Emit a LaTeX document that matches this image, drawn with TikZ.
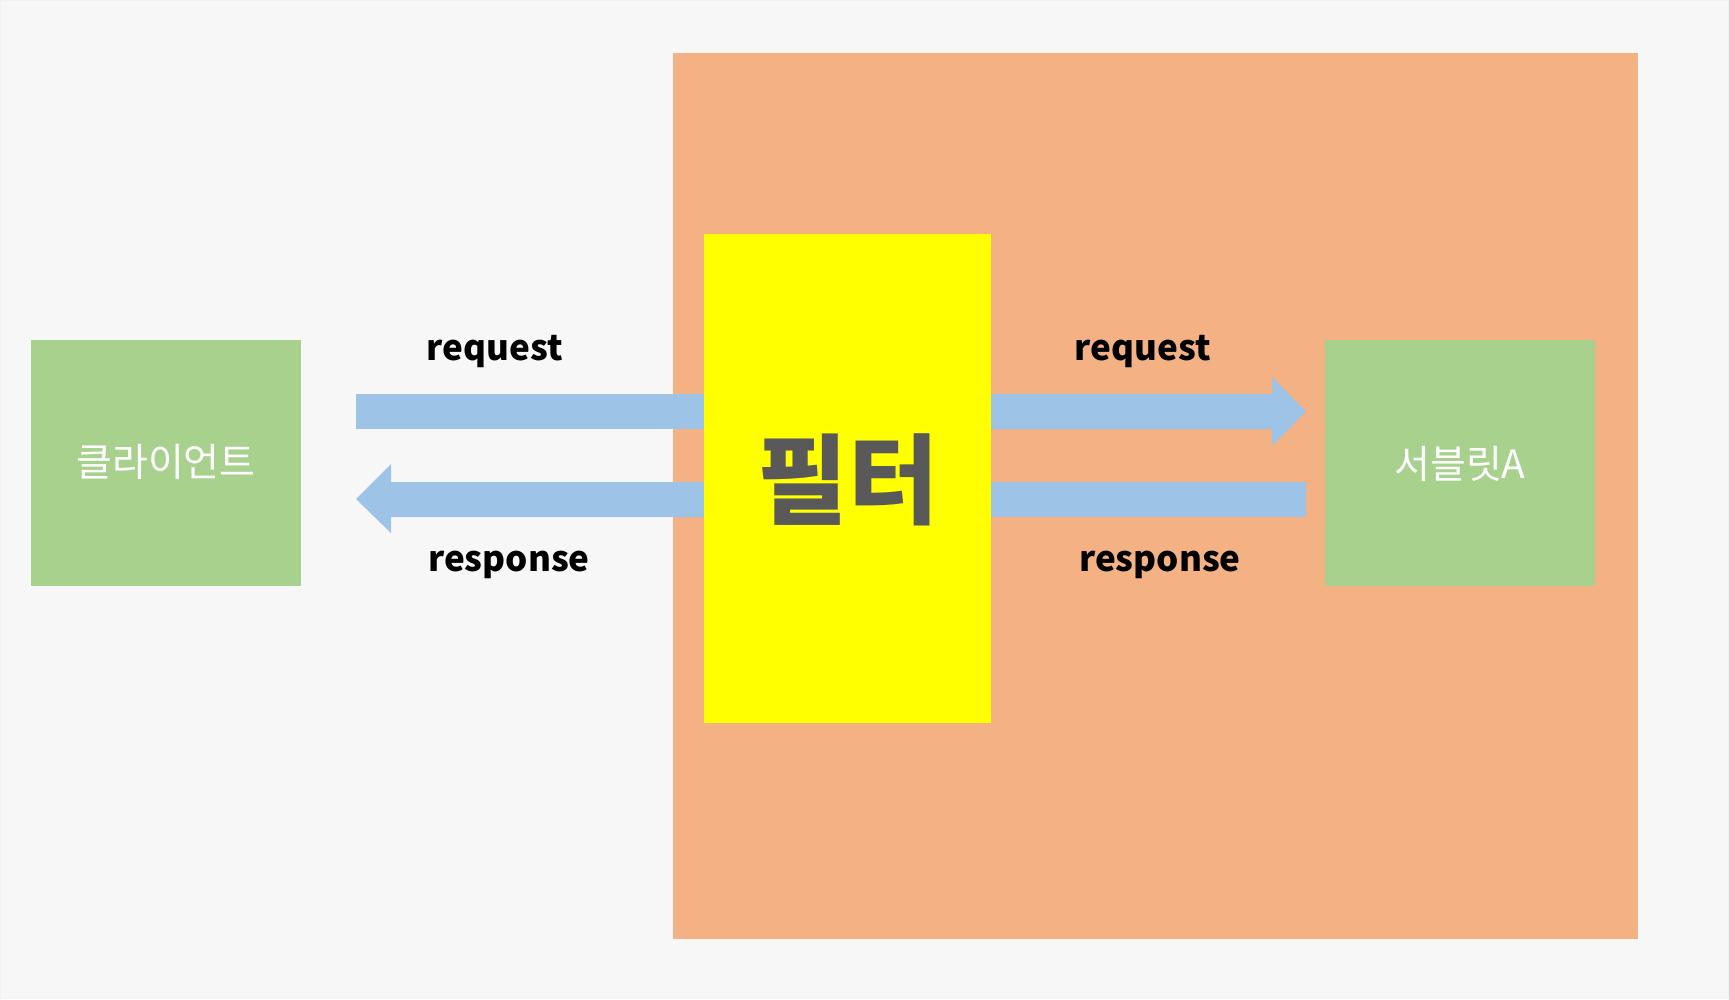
\documentclass[tikz,border=0pt]{standalone}
\usepackage{fontspec}
\setmainfont{Noto Sans CJK KR}
\usetikzlibrary{calc}
\definecolor{bgc}{HTML}{F7F7F7}
\definecolor{orangec}{HTML}{F4B183}
\definecolor{yellowc}{HTML}{FFFF00}
\definecolor{greenc}{HTML}{A9D18E}
\definecolor{bluec}{HTML}{9DC3E6}
\definecolor{darktext}{HTML}{595959}
\tikzset{
  boxn/.style={anchor=north west, inner sep=0pt, outer sep=0pt},
  greenbox/.style={boxn, fill=greenc, text=white, font=\fontsize{38}{44}\selectfont},
  lbl/.style={inner sep=0pt, font=\bfseries\fontsize{35}{40}\selectfont, text=black},
  flow/.style={fill=bluec, draw=none}
}
\begin{document}
\begin{tikzpicture}[x=1pt,y=-1pt]
\path[fill=bgc, draw=black!5, line width=1pt] (0.5,0.5) rectangle (1728.5,998.5);
\useasboundingbox (0,0) rectangle (1729,999);
% container
\node[boxn, fill=orangec, minimum width=965pt, minimum height=886pt] (container) at (673,53) {};
% arrows
\fill[flow] (356,394) rectangle (704,429);
\fill[flow] (704,482) -- (391,482) -- (391,464) -- (356,499) -- (391,533) -- (391,517) -- (704,517) -- cycle;
\fill[flow] (991,394) -- (1272,394) -- (1272,377) -- (1306,411.5) -- (1272,446) -- (1272,429) -- (991,429) -- cycle;
\fill[flow] (991,482) rectangle (1306,517);
% filter
\node[boxn, fill=yellowc, minimum width=287pt, minimum height=489pt] (filter) at (704,234) {};
\node[inner sep=0pt, text=darktext, font=\bfseries\fontsize{98}{110}\selectfont] (filterlbl) at (848,480) {필터};
% client and servlet
\node[greenbox, minimum width=270pt, minimum height=246pt] (client) at (31,340) {};
\node[inner sep=0pt, text=white, font=\fontsize{39}{44}\selectfont] (clientlbl) at (166,462) {클라이언트};
\node[greenbox, minimum width=270pt, minimum height=246pt] (servlet) at (1325,340) {};
\node[inner sep=0pt, text=white, font=\fontsize{39}{44}\selectfont] (servletlbl) at (1460,464) {서블릿A};
% labels
\node[lbl] (req1) at (495,352) {request};
\node[lbl] (res1) at (509,565) {response};
\node[lbl] (req2) at (1143,352) {request};
\node[lbl] (res2) at (1160,565) {response};
\end{tikzpicture}
\end{document}
